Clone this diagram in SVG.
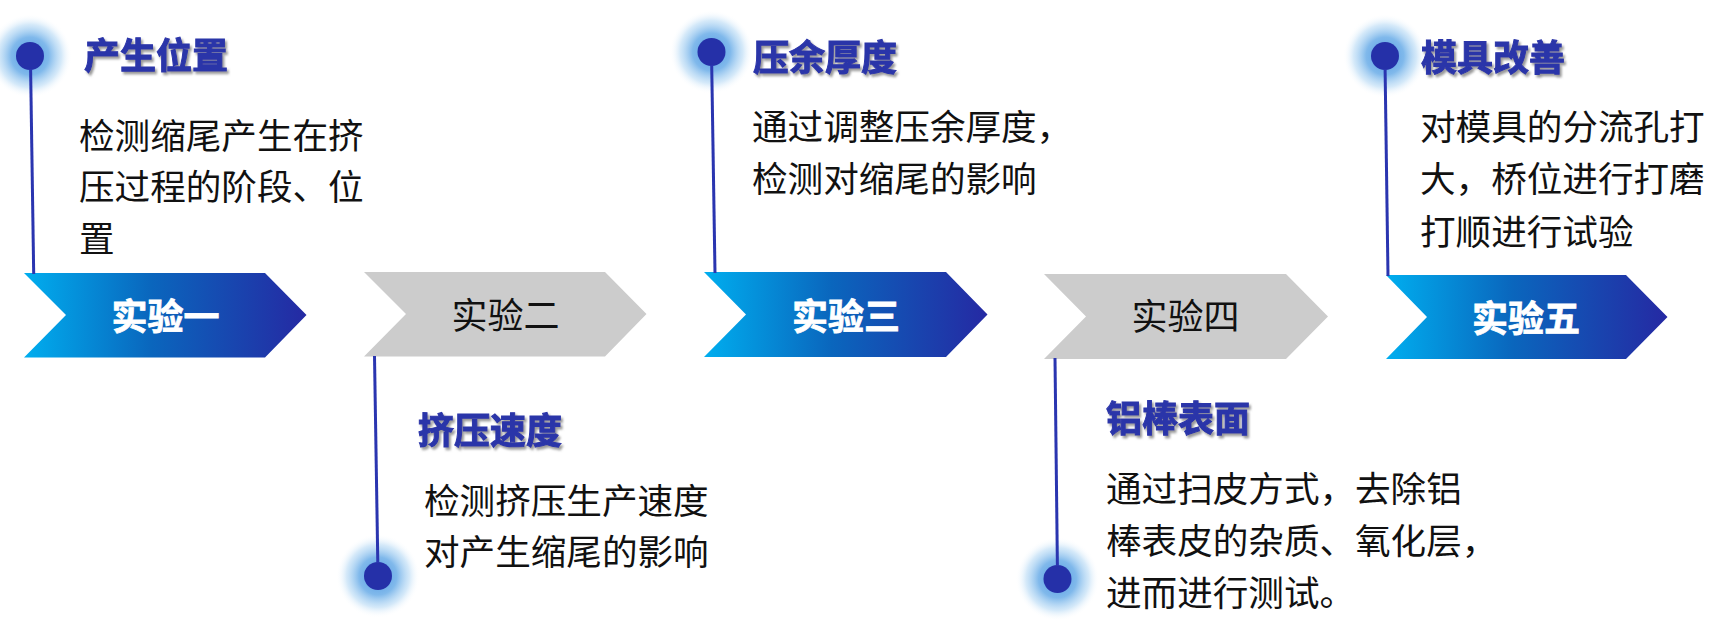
<svg xmlns="http://www.w3.org/2000/svg" width="1721" height="635" viewBox="0 0 1721 635">
<defs>
<linearGradient id="blueGrad" x1="0" y1="0" x2="1" y2="0">
<stop offset="0" stop-color="#00aeef"/>
<stop offset="0.45" stop-color="#0a66bd"/>
<stop offset="1" stop-color="#2529a3"/>
</linearGradient>
<radialGradient id="haloGrad" cx="0.5" cy="0.5" r="0.5">
<stop offset="0" stop-color="#4f98e2" stop-opacity="1"/>
<stop offset="0.45" stop-color="#72b1e9" stop-opacity="0.9"/>
<stop offset="0.75" stop-color="#aad3f3" stop-opacity="0.5"/>
<stop offset="1" stop-color="#ffffff" stop-opacity="0"/>
</radialGradient>
<filter id="tshadow" x="-0.1" y="-0.2" width="1.3" height="1.5">
<feDropShadow dx="2" dy="2.5" stdDeviation="1.2" flood-color="#777777" flood-opacity="0.75"/>
</filter>
<style>
.blue { fill: url(#blueGrad); }
.grey { fill: #cccccc; }
.steptxt { font-family: "Noto Sans CJK SC", "Noto Sans", sans-serif; font-size: 36px; text-anchor: middle; }
.stepA { fill: #ffffff; font-weight: 700; stroke: #ffffff; stroke-width: 0.8; }
.stepB { fill: #111111; font-weight: 400; }
.title { font-family: "Noto Sans CJK SC", "Noto Sans", sans-serif; font-size: 36px; font-weight: 700; fill: #2b35a9; stroke: #2b35a9; stroke-width: 1; filter: url(#tshadow); }
.body { font-family: "Noto Sans CJK SC", "Noto Sans", sans-serif; font-size: 35.6px; fill: #111111; }
.halo { fill: url(#haloGrad); }
.dot { fill: #2530a8; }
.conn { stroke: #2a35b0; stroke-width: 3; fill: none; }
</style>
</defs>
<rect x="0" y="0" width="1721" height="635" fill="#ffffff"/>

<g id="step1">
<polygon class="blue" points="24,273 265,273 306.5,315 265,357.5 24,357.5 66,315"/>
<text class="steptxt stepA" x="165.5" y="330">实验一</text>
</g>
<g id="step2">
<polygon class="grey" points="364,272 605,272 646.5,314 605,356.5 364,356.5 406,314"/>
<text class="steptxt stepB" x="505.5" y="329">实验二</text>
</g>
<g id="step3">
<polygon class="blue" points="704,272 946,272 987.5,314.5 946,357 704,357 746,314.5"/>
<text class="steptxt stepA" x="846" y="329.5">实验三</text>
</g>
<g id="step4">
<polygon class="grey" points="1044,274 1286,274 1328,316.5 1286,359 1044,359 1086,316.5"/>
<text class="steptxt stepB" x="1185.5" y="330">实验四</text>
</g>
<g id="step5">
<polygon class="blue" points="1386,275 1626,275 1667.5,317 1626,359 1386,359 1427,317"/>
<text class="steptxt stepA" x="1526" y="332">实验五</text>
</g>

<g id="note1">
<circle class="halo" cx="30" cy="56" r="42"/>
<circle class="dot" cx="30" cy="56" r="14"/>
<text class="title" x="84" y="69">产生位置</text>
<text class="body" x="79" y="149">检测缩尾产生在挤</text>
<text class="body" x="79" y="200">压过程的阶段、位</text>
<text class="body" x="79" y="252">置</text>
</g>

<g id="note2">
<circle class="halo" cx="378" cy="576" r="42"/>
<circle class="dot" cx="378" cy="576" r="14"/>
<text class="title" x="418" y="444">挤压速度</text>
<text class="body" x="424" y="514">检测挤压生产速度</text>
<text class="body" x="424" y="565">对产生缩尾的影响</text>
</g>

<g id="note3">
<circle class="halo" cx="711.5" cy="52" r="42"/>
<circle class="dot" cx="711.5" cy="52" r="14"/>
<text class="title" x="753" y="71">压余厚度</text>
<text class="body" x="752" y="140">通过调整压余厚度，</text>
<text class="body" x="752" y="192">检测对缩尾的影响</text>
</g>

<g id="note4">
<circle class="halo" cx="1057.5" cy="579" r="42"/>
<circle class="dot" cx="1057.5" cy="579" r="14"/>
<text class="title" x="1106" y="432">铝棒表面</text>
<text class="body" x="1106" y="502">通过扫皮方式，去除铝</text>
<text class="body" x="1106" y="554">棒表皮的杂质、氧化层，</text>
<text class="body" x="1106" y="606">进而进行测试。</text>
</g>

<g id="note5">
<circle class="halo" cx="1385" cy="56" r="42"/>
<circle class="dot" cx="1385" cy="56" r="14"/>
<text class="title" x="1421" y="71">模具改善</text>
<text class="body" x="1420" y="140">对模具的分流孔打</text>
<text class="body" x="1420" y="192">大，桥位进行打磨</text>
<text class="body" x="1420" y="245">打顺进行试验</text>
</g>

<g id="connectors">
<line class="conn" x1="30.6" y1="69" x2="33.7" y2="274"/>
<line class="conn" x1="374.5" y1="356" x2="377.8" y2="563"/>
<line class="conn" x1="711.7" y1="65" x2="715" y2="273"/>
<line class="conn" x1="1055" y1="358" x2="1057.4" y2="566"/>
<line class="conn" x1="1385.1" y1="69" x2="1388" y2="276"/>
</g>
</svg>
